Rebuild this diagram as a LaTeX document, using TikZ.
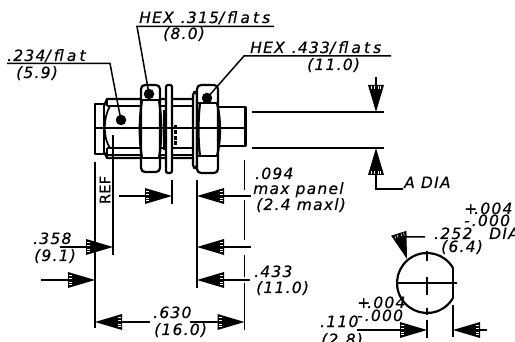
\documentclass[tikz,border=0pt]{standalone}
\usepackage{fontspec}
\setmainfont{DejaVu Sans}[LetterSpace=8,FakeBold=0.4]
\newfontfamily\widefont{DejaVu Sans}[LetterSpace=20,FakeBold=0.4]
\newfontfamily\refont{DejaVu Sans}[LetterSpace=2,FakeBold=0.4]
\newcommand{\wideword}[1]{{\widefont\itshape #1}}
\pgfdeclarearrow{
  name=HT,
  setup code={
    \pgfarrowssettipend{0pt}
    \pgfarrowssetbackend{-27pt}
    \pgfarrowssetlineend{-20pt}
    \pgfarrowssetvisualbackend{-24pt}
    \pgfarrowshullpoint{0pt}{0pt}
    \pgfarrowshullpoint{-27pt}{8pt}
    \pgfarrowshullpoint{-27pt}{-8pt}
  },
  drawing code={
    \pgfpathmoveto{\pgfqpoint{0pt}{0pt}}
    \pgfpathlineto{\pgfqpoint{-27pt}{8pt}}
    \pgfpathlineto{\pgfqpoint{-27pt}{-8pt}}
    \pgfpathclose
    \pgfusepathqfill
    \pgfsetstrokecolor{white}
    \pgfsetlinewidth{0.5pt}
    \foreach \w in {-4.5,-2,2,4.5}{
      \pgfpathmoveto{\pgfqpoint{-26pt}{\w pt}}
      \pgfpathlineto{\pgfqpoint{-23pt}{\w pt}}
    }
    \pgfusepathqstroke
  },
  defaults={}
}
\tikzset{
  x=1pt,y=-1pt,
  lbl/.style={anchor=base west,inner sep=0pt,font=\itshape\fontsize{15.5}{15.5}\selectfont},
  part/.style={line width=2.2pt,line join=round},
  thin part/.style={line width=1.7pt},
  ext/.style={line width=1.5pt},
  dim/.style={line width=1.5pt,-{HT}},
  ldr/.style={line width=1.5pt},
  dot/.style={circle,fill=black,inner sep=0pt,minimum size=10.5pt}
}
\begin{document}
\begin{tikzpicture}
\useasboundingbox (0,0) rectangle (515,342);
\clip (0,0) rectangle (515,342);
% body
\draw[part] (95,104) rectangle (104,154);
\draw[part] (104,106) -- (107,99) -- (193,99);
\draw[part] (104,152) -- (107,158) -- (193,158);
\draw[thin part] (107,106) -- (193,106);
\draw[thin part] (107,148) -- (193,148);
\draw[thin part] (107,155) -- (193,155);
\draw[thin part] (110,106) .. controls (103,118) and (103,138) .. (110,148);
\draw[thin part] (107,99) -- (107,106);
\draw[thin part] (107,148) -- (107,158);
\draw[thin part] (113,148) -- (113,158);
\draw[line width=1.5pt] (95,128) -- (246,128);
% first nut
\draw[part,fill=white,rounded corners=4pt] (141,85) rectangle (160,172);
\draw[part] (142,100) .. controls (139,120) and (139,140) .. (142,158);
\draw[part] (159,100) .. controls (162,120) and (162,140) .. (159,158);
\draw[thin part] (141,100) -- (160,100) (141,158) -- (160,158);
\draw[line width=1.5pt] (141,128) -- (172,128);
% washer
\draw[part,fill=white,rounded corners=2pt] (166,85) rectangle (172,173);
\draw[line width=2.4pt] (164,110) -- (164,150);
\draw[line width=3pt,dash pattern=on 4pt off 1.5pt] (175,125) -- (175,145);
\draw[line width=1.5pt] (166,128) -- (172,128);
% shaft
\draw[part] (218,107) -- (245.5,107) -- (245.5,146) -- (218,146);
% second nut
\draw[part,fill=white,rounded corners=3pt] (193,92) rectangle (197,168);
\draw[part,fill=white,rounded corners=4pt] (197,85) rectangle (218,173);
\draw[thin part] (197,103) -- (218,103) (197,156) -- (218,156);
\draw[part] (200,103) .. controls (198,120) and (198,140) .. (200,156);
\draw[part] (217,103) .. controls (221,120) and (221,140) .. (217,156);
\draw[line width=1.5pt] (184,128) -- (222,128);
% leader targets
\node[dot] (d1) at (121,120) {};
\node[dot] (d2) at (149,94) {};
\node[dot] (d3) at (207,98) {};
% leaders
\coordinate (a1) at (7,63.5); \coordinate (a2) at (110,63.5); \coordinate (a3) at (117,100);
\draw[ldr] (a1) -- (a2) -- (a3) -- (d1.center);
\coordinate (b1) at (274,26.5); \coordinate (b2) at (137,26.5);
\draw[ldr] (b1) -- (b2) -- (d2.center);
\coordinate (c1) at (391,56); \coordinate (c2) at (244,56);
\draw[ldr] (c1) -- (c2) -- (d3.center);
% extension lines
\coordinate (e1) at (95,162); \coordinate (e2) at (95,328);
\draw[ext] (e1) -- (e2);
\coordinate (f1) at (113,135); \coordinate (f2) at (113,255);
\draw[ext] (f1) -- (f2);
\coordinate (g1) at (172,180); \coordinate (g2) at (172,204);
\draw[ext] (g1) -- (g2);
\coordinate (h1) at (197,180); \coordinate (h2) at (197,288);
\draw[ext] (h1) -- (h2);
\draw[ext] (244.5,160) -- (244.5,190) (244.5,200) -- (244.5,240) (244.5,255) -- (244.5,277) (244.5,283) -- (244.5,330);
% right-hand extension
\coordinate (j1) at (252,112); \coordinate (j2) at (384,112);
\coordinate (k1) at (252,148); \coordinate (k2) at (384,148);
\draw[ext] (j1) -- (j2) (k1) -- (k2);
% dimensions
\coordinate (m1) at (376,77); \coordinate (m2) at (376,112);
\draw[dim] (m1) -- (m2);
\coordinate (n1) at (403,189); \coordinate (n2) at (376,189); \coordinate (n3) at (376,148);
\draw[dim] (n1) -- (n2) -- (n3);
\coordinate (o1) at (119,196); \coordinate (o2) at (172,196);
\draw[dim] (o1) -- (o2);
\coordinate (p1) at (251,196); \coordinate (p2) at (197,196);
\draw[dim] (p1) -- (p2);
\coordinate (q1) at (251,247); \coordinate (q2) at (197,247);
\draw[dim] (q1) -- (q2);
\coordinate (r1) at (250,280); \coordinate (r2) at (197,280);
\draw[dim] (r1) -- (r2);
\coordinate (s1) at (60,247); \coordinate (s2) at (113,247);
\draw[dim] (s1) -- (s2);
\coordinate (t1) at (41,280); \coordinate (t2) at (95,280);
\draw[dim] (t1) -- (t2);
\coordinate (u1) at (150,322); \coordinate (u2) at (95,322);
\draw[dim] (u1) -- (u2);
\coordinate (v1) at (190,322); \coordinate (v2) at (244.5,322);
\draw[dim] (v1) -- (v2);
% circular section
\draw[line width=2.2pt] (453,268) arc[start angle=-30,end angle=-330,radius=30];
\draw[line width=2.2pt] (453,268) -- (453,298);
\draw[ext] (396,283) -- (457,283);
\draw[ext] (427,251) -- (427,261) (427,277) -- (427,295) (427,308) -- (427,315);
\coordinate (w1) at (427,320); \coordinate (w2) at (427,338);
\draw[ext] (w1) -- (w2);
\coordinate (x1) at (453,305); \coordinate (x2) at (453,337);
\draw[ext] (x1) -- (x2);
\coordinate (y1) at (357,330); \coordinate (y2) at (427,330);
\draw[dim] (y1) -- (y2);
\coordinate (z1) at (487,330); \coordinate (z2) at (453,330);
\draw[dim] (z1) -- (z2);
\coordinate (aa1) at (425,237); \coordinate (aa2) at (400,237); \coordinate (aa3) at (407,259);
\draw[dim] (aa1) -- (aa2) -- (aa3);
% labels
\node[lbl] (t01) at (139,23) {HEX\hspace{7pt}.315\wideword{/flats}};
\node[lbl] (t02) at (163,39) {(8.0)};
\node[lbl] (t03) at (250,53) {HEX\hspace{7pt}.433\wideword{/flats}};
\node[lbl] (t04) at (307,70) {(11.0)};
\node[lbl] (t05) at (7,61) {.234\wideword{/flat}};
\node[lbl] (t06) at (16,78) {(5.9)};
\node[lbl] (t07) at (404,188) {A DIA};
\node[lbl] (t08) at (255,179) {.094};
\node[lbl] (t09) at (253,194) {max panel};
\node[lbl] (t10) at (256,210) {(2.4 maxl)};
\node[lbl] (t11) at (254,277) {.433};
\node[lbl] (t12) at (256,293) {(11.0)};
\node[lbl] (t13) at (33,244) {.358};
\node[lbl] (t14) at (34,261) {(9.1)};
\node[lbl] (t15) at (153,318) {.630};
\node[lbl] (t16) at (154,335) {(16.0)};
\node[lbl] (t17) at (464,214) {+\kern-3pt.004};
\node[lbl] (t18) at (464,226) {-\kern2pt.000};
\node[lbl] (t19) at (434,239) {.252};
\node[lbl] (t20) at (489,239) {DIA};
\node[lbl] (t21) at (441,252) {(6.4)};
\node[lbl] (t22) at (320,327) {.110};
\node[lbl] (t23) at (357,308) {+\kern-3pt.004};
\node[lbl] (t24) at (357,321) {-\kern2pt.000};
\node[lbl] (t25) at (321,345) {(2.8)};
\node[anchor=center,inner sep=0pt,rotate=90,font=\refont\fontsize{14.5}{14.5}\selectfont] (t26) at (105,190) {REF};
\end{tikzpicture}
\end{document}
